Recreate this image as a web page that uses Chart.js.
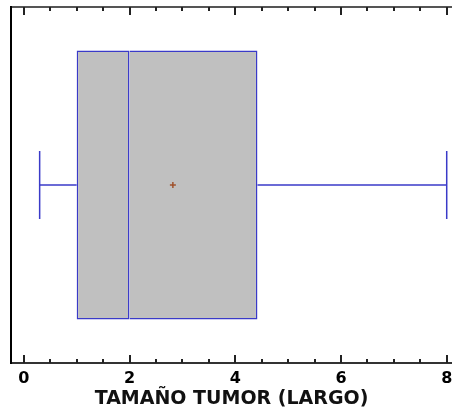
<!DOCTYPE html>
<html>
<head>
<meta charset="utf-8">
<script src="https://cdn.jsdelivr.net/npm/chart.js"></script>
<style>
  html, body { margin: 0; padding: 0; background: #fff; }
  .chart-parent { width: 452px; height: 416px; }
</style>
</head>
<body>
<div class="chart-parent"><canvas id="myChart"></canvas></div>
<script>
// values
const categories = ["TAMAÑO TUMOR (LARGO)"];
const whiskerLow = [0.3];
const q1 = [1.0];
const median = [2.0];
const q3 = [4.42];
const whiskerHigh = [8.0];
const mean = [2.82];
const tickLabels = [0, 2, 4, 6, 8];

const BLUE = "#3a3ac8";
const FONT = "'DejaVu Sans', Arial, sans-serif";
const cat = categories[0];

// inward tick marks on top and bottom, like the original
const tickMarks = {
  id: "tickMarks",
  afterDraw(chart) {
    const { ctx, chartArea: a, scales: { x } } = chart;
    ctx.save();
    ctx.strokeStyle = "#222";
    ctx.lineWidth = 2;
    x.ticks.forEach(t => {
      const px = Math.round(x.getPixelForValue(t.value));
      const len = tickLabels.includes(t.value) ? 8 : 4;
      ctx.beginPath();
      ctx.moveTo(px, a.top);
      ctx.lineTo(px, a.top + len);
      ctx.moveTo(px, a.bottom);
      ctx.lineTo(px, a.bottom - len);
      ctx.stroke();
    });
    ctx.restore();
  }
};

// the plot runs off the right edge, so no room is kept for the last label
const noSidePad = s => { s.paddingLeft = 0; s.paddingRight = 0; };

const ctx = document.getElementById("myChart");
new Chart(ctx, {
  type: "bar",
  data: {
    labels: categories,
    datasets: [
      // box, split at the median
      { data: [[q1[0], median[0]]], backgroundColor: "#c0c0c0", borderColor: BLUE, borderWidth: 1.5,
        borderSkipped: false, grouped: false, categoryPercentage: 1, barPercentage: 0.755, order: 3 },
      { data: [[median[0], q3[0]]], backgroundColor: "#c0c0c0", borderColor: BLUE, borderWidth: 1.5,
        borderSkipped: "start", grouped: false, categoryPercentage: 1, barPercentage: 0.755, order: 3 },
      // whiskers with caps
      { type: "line", data: [{ x: whiskerLow[0], y: cat }, { x: q1[0], y: cat }], borderColor: BLUE,
        borderWidth: 1.5, pointStyle: "line", rotation: 90, pointRadius: [34, 0], pointBorderColor: BLUE,
        pointBorderWidth: 1.5, order: 2 },
      { type: "line", data: [{ x: q3[0], y: cat }, { x: whiskerHigh[0], y: cat }], borderColor: BLUE,
        borderWidth: 1.5, pointStyle: "line", rotation: 90, pointRadius: [0, 34], pointBorderColor: BLUE,
        pointBorderWidth: 1.5, order: 2 },
      // mean
      { type: "line", data: [{ x: mean[0], y: cat }], showLine: false, pointStyle: "cross", pointRadius: 3,
        pointBorderColor: "#a0522d", pointBorderWidth: 1.5, order: 1 }
    ]
  },
  options: {
    indexAxis: "y",
    responsive: true,
    maintainAspectRatio: false,
    animation: false,
    layout: { autoPadding: false, padding: { left: 11, top: 7, right: 0, bottom: 6 } },
    plugins: { legend: { display: false }, tooltip: { enabled: false } },
    scales: {
      x: {
        type: "linear", position: "bottom", min: -0.242, max: 8.1, afterFit: noSidePad,
        ticks: { stepSize: 0.5, includeBounds: false, autoSkip: false, maxRotation: 0, color: "#000", padding: 6,
          font: { family: FONT, size: 16, weight: "bold" },
          callback: v => tickLabels.includes(v) ? String(v) : "" },
        grid: { drawOnChartArea: false, drawTicks: false },
        border: { display: true, color: "#333", width: 2 },
        title: { display: true, text: categories[0], color: "#111", padding: { top: -7, bottom: 0 },
          font: { family: FONT, size: 19, weight: "bold" } }
      },
      x2: {
        type: "linear", position: "top", min: -0.242, max: 8.1, afterFit: noSidePad,
        ticks: { display: false },
        grid: { drawOnChartArea: false, drawTicks: false },
        border: { display: true, color: "#555", width: 2 }
      },
      y: {
        type: "category",
        ticks: { display: false },
        grid: { drawOnChartArea: false, drawTicks: false },
        border: { display: true, color: "#000", width: 2 }
      }
    }
  },
  plugins: [tickMarks]
});
</script>
</body>
</html>
